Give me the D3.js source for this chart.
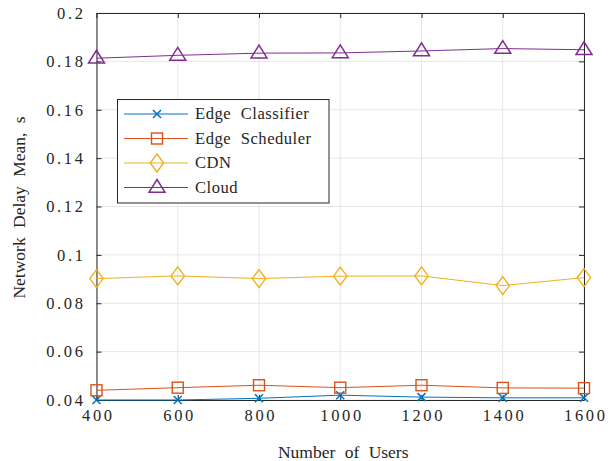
<!DOCTYPE html>
<html><head><meta charset="utf-8">
<script src="https://cdn.jsdelivr.net/npm/d3@7"></script>
<style>body{margin:0;background:#fff;} svg{display:block;}</style>
</head><body>
<svg id="c" width="614" height="461"></svg>
<script>
const users = [400, 600, 800, 1000, 1200, 1400, 1600];
const edgeClassifier = [0.0400, 0.0400, 0.0407, 0.0420, 0.0412, 0.0409, 0.0409];
const edgeScheduler = [0.0440, 0.0451, 0.0461, 0.0451, 0.0461, 0.0450, 0.0449];
const cdn = [0.0902, 0.0913, 0.0902, 0.0912, 0.0913, 0.0873, 0.0906];
const cloud = [0.1813, 0.1825, 0.1834, 0.1835, 0.1843, 0.1853, 0.1848];
const seriesNames = ["Edge Classifier", "Edge Scheduler", "CDN", "Cloud"];
const seriesColors = ["#0072BD", "#D95319", "#EDB120", "#7E2F8E"];
const seriesMarkers = ["x", "square", "diamond", "triangle"];
const xTicks = [400, 600, 800, 1000, 1200, 1400, 1600];
const yTicks = [0.04, 0.06, 0.08, 0.1, 0.12, 0.14, 0.16, 0.18, 0.2];
const xLabel = "Number of Users";
const yLabel = "Network Delay Mean, s";

const seriesData = [edgeClassifier, edgeScheduler, cdn, cloud];
const svg = d3.select("#c");
const L = 96.5, R = 584, T = 13, B = 400;
const x = d3.scaleLinear().domain([400, 1600]).range([L, R]);
const y = d3.scaleLinear().domain([0.04, 0.2]).range([B, T]);
const font = "'Liberation Serif', 'Times New Roman', serif";
const ink = "#262626";

// grid
svg.append("g").selectAll("line").data(xTicks).join("line")
  .attr("x1", d => x(d)).attr("x2", d => x(d)).attr("y1", T).attr("y2", B)
  .attr("stroke", "#e6e6e6").attr("stroke-width", 1);
svg.append("g").selectAll("line").data(yTicks).join("line")
  .attr("x1", L).attr("x2", R).attr("y1", d => y(d)).attr("y2", d => y(d))
  .attr("stroke", "#e6e6e6").attr("stroke-width", 1);

// axes with inward ticks
const tickLen = 5;
const xb = svg.append("g").attr("transform", `translate(0,${B})`)
  .call(d3.axisBottom(x).tickValues(xTicks).tickFormat(d3.format("d")).tickSizeInner(-tickLen).tickSizeOuter(0).tickPadding(9));
const xt = svg.append("g").attr("transform", `translate(0,${T})`)
  .call(d3.axisTop(x).tickValues(xTicks).tickFormat("").tickSizeInner(-tickLen).tickSizeOuter(0));
const yl = svg.append("g").attr("transform", `translate(${L},0)`)
  .call(d3.axisLeft(y).tickValues(yTicks).tickFormat(d => String(+d.toFixed(2))).tickSizeInner(-tickLen).tickSizeOuter(0).tickPadding(11));
const yr = svg.append("g").attr("transform", `translate(${R},0)`)
  .call(d3.axisRight(y).tickValues(yTicks).tickFormat("").tickSizeInner(-tickLen).tickSizeOuter(0));
[xb, xt, yl, yr].forEach(g => {
  g.attr("font-family", null).attr("font-size", null);
  g.selectAll("path").attr("stroke", ink).attr("stroke-width", 1);
  g.selectAll("line").attr("stroke", ink).attr("stroke-width", 1);
  g.selectAll("text").attr("fill", ink).style("font-family", font).style("font-size", "16.5px")
    .style("letter-spacing", "2.6px");
});
xb.selectAll("text").attr("dx", "1.3px");

// data
const line = d3.line().x((d, i) => x(users[i])).y(d => y(d));
function marker(g, type, cx, cy, color) {
  if (type === "x") {
    const s = 4;
    g.append("path").attr("d", `M${cx-s},${cy-s}L${cx+s},${cy+s}M${cx-s},${cy+s}L${cx+s},${cy-s}`)
      .attr("stroke", color).attr("stroke-width", 1.5).attr("fill", "none");
  } else if (type === "square") {
    const s = 5.5;
    g.append("rect").attr("x", cx - s).attr("y", cy - s).attr("width", 2*s).attr("height", 2*s)
      .attr("stroke", color).attr("stroke-width", 1.4).attr("fill", "none");
  } else if (type === "diamond") {
    const w = 6.7, h = 9;
    g.append("path").attr("d", `M${cx},${cy-h}L${cx+w},${cy}L${cx},${cy+h}L${cx-w},${cy}Z`)
      .attr("stroke", color).attr("stroke-width", 1.4).attr("fill", "none");
  } else if (type === "triangle") {
    const s = 8;
    g.append("path").attr("d", `M${cx},${cy-s}L${cx+s},${cy+s*0.6}L${cx-s},${cy+s*0.6}Z`)
      .attr("stroke", color).attr("stroke-width", 1.5).attr("fill", "none");
  }
}
seriesData.forEach((vals, k) => {
  const g = svg.append("g");
  g.append("path").datum(vals).attr("d", line).attr("fill", "none")
    .attr("stroke", seriesColors[k]).attr("stroke-width", 1);
  vals.forEach((v, i) => marker(g, seriesMarkers[k], x(users[i]), y(v), seriesColors[k]));
});

// labels
svg.append("text").attr("x", (L + R) / 2 + 3).attr("y", 457.5).attr("text-anchor", "middle")
  .style("font-family", font).style("font-size", "17.5px").style("word-spacing", "5px")
  .attr("fill", ink).text(xLabel);
svg.append("text").attr("transform", `translate(25,207.5) rotate(-90)`).attr("text-anchor", "middle")
  .style("font-family", font).style("font-size", "17.5px").style("word-spacing", "5px")
  .attr("fill", ink).text(yLabel);

// legend
const lg = svg.append("g");
lg.append("rect").attr("x", 117.5).attr("y", 99.5).attr("width", 211.5).attr("height", 103.5)
  .attr("fill", "#fff").attr("stroke", ink).attr("stroke-width", 1);
seriesNames.forEach((n, k) => {
  const ly = 114 + k * 24.5;
  lg.append("line").attr("x1", 124).attr("x2", 188).attr("y1", ly).attr("y2", ly)
    .attr("stroke", seriesColors[k]).attr("stroke-width", 1);
  marker(lg, seriesMarkers[k], 157, ly, seriesColors[k]);
  lg.append("text").attr("x", 195).attr("y", ly + 5.3).style("font-family", font).style("font-size", "16.6px")
    .style("word-spacing", "5px").style("letter-spacing", "0.5px")
    .attr("fill", ink).text(n);
});
</script>
</body></html>
